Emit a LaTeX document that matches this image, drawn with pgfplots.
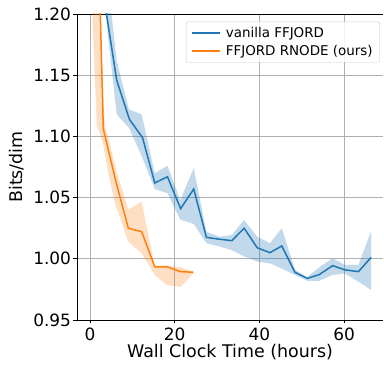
\documentclass[border=0pt]{standalone}
\usepackage{fontspec}
\setmainfont{DejaVu Sans}
\usepackage{pgfplots}
\pgfplotsset{compat=1.18}
\definecolor{mblue}{HTML}{1F77B4}
\definecolor{morange}{HTML}{FF7F0E}
\definecolor{mgrid}{HTML}{B0B0B0}
\begin{document}
\begin{tikzpicture}[x=1bp,y=1bp]
\begin{axis}[
  name=ax,
  scale only axis,
  width=306bp, height=306bp,
  xmin=-3.07, xmax=69.2,
  ymin=0.95, ymax=1.20,
  axis x line=box,
  axis y line*=left,
  xtick={0,20,40,60},
  ytick={0.95,1.00,1.05,1.10,1.15,1.20},
  xtick pos=bottom,
  ytick pos=left,
  tick align=outside,
  major tick length=3.5bp,
  tick style={black, line width=0.8bp},
  axis line style={black, line width=0.8bp, -},
  grid=major,
  grid style={mgrid, line width=0.8bp},
  /pgf/number format/assume math mode=true,
  ticklabel style={font=\fontsize{17}{20}\selectfont},
  yticklabel style={xshift=1bp, /pgf/number format/fixed, /pgf/number format/fixed zerofill, /pgf/number format/precision=2},
  xticklabel style={yshift=-1bp},
  xlabel={Wall Clock Time (hours)},
  ylabel={Bits/dim},
  label style={font=\fontsize{17.5}{21}\selectfont},
  xlabel style={yshift=3bp},
  ylabel style={yshift=2bp},
  legend cell align=left,
  legend style={at={(0.99,0.975)}, anchor=north east,
    font=\fontsize{13.5}{16}\selectfont,
    draw=gray!40, rounded corners=2bp, fill=white, fill opacity=0.8, text opacity=1, draw opacity=1,
    row sep=3bp, inner xsep=5bp, inner ysep=3bp},
  legend image code/.code={\draw[#1, line width=2bp, opacity=1] (0bp,0bp) -- (28bp,0bp); \path (31bp,0bp);},
  clip=true,
]
% blue band
\addplot[fill=mblue, fill opacity=0.28, draw=none, forget plot] coordinates {
 (3.0,1.265) (6.3,1.162) (9.2,1.122) (12.2,1.118) (15.3,1.070) (18.3,1.076)
 (21.3,1.048) (24.5,1.074) (27.5,1.022) (30.6,1.018) (33.5,1.0195) (36.4,1.0317)
 (39.5,1.018) (42.5,1.0127) (45.3,1.025) (48.4,0.991) (51.3,0.985) (54.1,0.993)
 (57.3,1.0004) (60.2,0.995) (63.4,0.995) (66.4,1.0227)
 (66.4,0.9745) (63.4,0.9813) (60.2,0.988) (57.3,0.9868) (54.1,0.982) (51.3,0.982)
 (48.4,0.9868) (45.3,0.992) (42.5,0.9963) (39.5,0.9977) (36.4,1.002) (33.5,1.007)
 (30.6,1.010) (27.5,1.0127) (24.5,1.0285) (21.3,1.032) (18.3,1.0535) (15.3,1.057)
 (12.2,1.084) (9.2,1.107) (6.3,1.118) (3.0,1.222)
};
% orange band
\addplot[fill=morange, fill opacity=0.25, draw=none, forget plot] coordinates {
 (2.1,1.35) (2.2,1.20) (3.5,1.109) (4.7,1.094) (6.2,1.072) (9.05,1.0404)
 (12.2,1.0466) (15.3,0.994) (18.1,0.9945) (21.4,0.993) (24.4,0.9895)
 (24.4,0.988) (21.4,0.977) (18.1,0.9786) (15.3,0.9868) (12.2,1.0045) (9.05,1.014)
 (5.9,1.045) (4.3,1.070) (3.1,1.094) (1.6,1.109) (0.0,1.25)
};
\addplot[mblue, line width=1.5bp] coordinates {
 (3.0,1.22) (6.3,1.146) (9.3,1.114) (12.4,1.099) (15.3,1.062) (18.3,1.067)
 (21.4,1.041) (24.5,1.057) (27.5,1.0175) (30.6,1.016) (33.5,1.0148) (36.4,1.025)
 (39.5,1.009) (42.5,1.005) (45.3,1.0105) (48.4,0.989) (51.3,0.984) (54.1,0.987)
 (57.3,0.9944) (60.2,0.991) (63.4,0.9895) (66.4,1.0012)
};
\addlegendentry{vanilla FFJORD}
\addplot[morange, line width=1.5bp] coordinates {
 (2.2,1.23) (3.15,1.106) (6.2,1.062) (9.05,1.025) (12.2,1.0222) (15.3,0.9935)
 (18.2,0.9935) (21.4,0.9895) (24.4,0.989)
};
\addlegendentry{FFJORD RNODE (ours)}
\end{axis}
\pgfresetboundingbox
\path ([xshift=-77bp,yshift=14bp]ax.north west) rectangle ([xshift=307bp,yshift=-351bp]ax.north west);
\end{tikzpicture}
\end{document}
